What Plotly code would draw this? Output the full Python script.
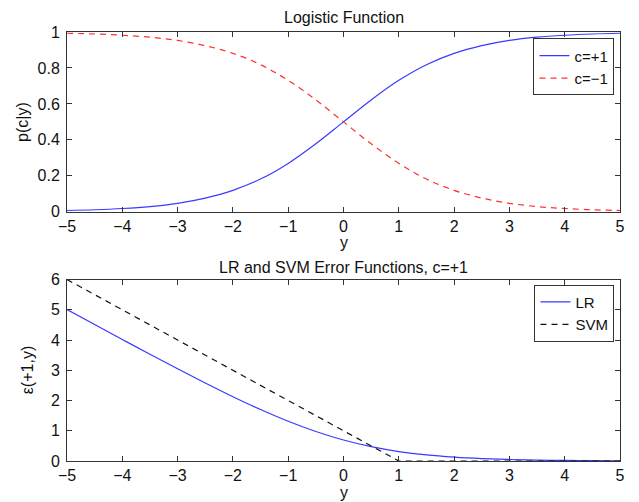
import plotly.graph_objects as go
from plotly.subplots import make_subplots

# sample positions along y
y_vals = [-5, -4.5, -4, -3.5, -3, -2.5, -2, -1.5, -1, -0.5, 0,
          0.5, 1, 1.5, 2, 2.5, 3, 3.5, 4, 4.5, 5]

# p(c|y) for c=+1 and c=-1
p_pos = [0.007, 0.011, 0.018, 0.029, 0.047, 0.076, 0.119, 0.182, 0.269, 0.378, 0.500,
         0.622, 0.731, 0.818, 0.881, 0.924, 0.953, 0.971, 0.982, 0.989, 0.993]
p_neg = [0.993, 0.989, 0.982, 0.971, 0.953, 0.924, 0.881, 0.818, 0.731, 0.622, 0.500,
         0.378, 0.269, 0.182, 0.119, 0.076, 0.047, 0.029, 0.018, 0.011, 0.007]

# logistic-regression error
lr_err = [5.007, 4.511, 4.018, 3.530, 3.049, 2.579, 2.127, 1.701, 1.313, 0.974, 0.693,
          0.474, 0.313, 0.201, 0.127, 0.079, 0.049, 0.030, 0.018, 0.011, 0.007]

# hinge (SVM) error, piecewise linear
svm_y = [-5, 1, 5]
svm_err = [6, 0, 0]

x_ticks = [-5, -4, -3, -2, -1, 0, 1, 2, 3, 4, 5]

fig = make_subplots(rows=2, cols=1, vertical_spacing=0.16)

fig.add_trace(go.Scatter(x=y_vals, y=p_pos, mode="lines", name="c=+1",
                         line=dict(color="#3a3aff", width=1.2, shape="spline"),
                         legend="legend"), row=1, col=1)
fig.add_trace(go.Scatter(x=y_vals, y=p_neg, mode="lines", name="c=\u22121",
                         line=dict(color="#ff3030", width=1.2, dash="6px,5px", shape="spline"),
                         legend="legend"), row=1, col=1)
fig.add_trace(go.Scatter(x=y_vals, y=lr_err, mode="lines", name="LR",
                         line=dict(color="#3a3aff", width=1.2, shape="spline"),
                         legend="legend2"), row=2, col=1)
fig.add_trace(go.Scatter(x=svm_y, y=svm_err, mode="lines", name="SVM",
                         line=dict(color="#111111", width=1.2, dash="6px,5px"),
                         legend="legend2"), row=2, col=1)

family = "Liberation Sans, Arial, sans-serif"
font = dict(family=family, size=16, color="#111")
title_font = dict(family=family, size=16, color="#111")
axis_common = dict(showgrid=False, zeroline=False, showline=True, mirror="allticks",
                   linecolor="#333", linewidth=1, ticks="inside", ticklen=5,
                   tickcolor="#333", tickfont=font, automargin=False)

fig.update_xaxes(range=[-5, 5], tickvals=x_ticks, ticklabelstandoff=0, **axis_common)
fig.update_yaxes(ticklabelstandoff=3, **axis_common)
fig.update_yaxes(range=[0, 1], tickvals=[0, 0.2, 0.4, 0.6, 0.8, 1], row=1, col=1)
fig.update_yaxes(range=[0, 6], tickvals=[0, 1, 2, 3, 4, 5, 6], row=2, col=1)

legend_style = dict(xanchor="right", yanchor="top",
                    bgcolor="white", bordercolor="#333", borderwidth=1,
                    font=dict(family=family, size=15, color="#111"),
                    tracegroupgap=0, itemwidth=30)

top_lo, bot_hi = 0.581, 0.423


def label(text, x, y, xshift=0, yshift=0, angle=0, f=font):
    return dict(text=text, x=x, y=y, xref="paper", yref="paper",
                xanchor="center", yanchor="middle", xshift=xshift, yshift=yshift,
                textangle=angle, showarrow=False, font=f, borderpad=0)


fig.update_layout(
    width=639, height=502,
    margin=dict(l=67, r=19, t=32, b=41),
    paper_bgcolor="white", plot_bgcolor="white",
    font=font,
    showlegend=True,
    yaxis=dict(domain=[top_lo, 1]),
    yaxis2=dict(domain=[0, bot_hi]),
    legend=dict(x=0.99, y=0.985, **legend_style),
    legend2=dict(x=0.99, y=bot_hi - 0.012, **legend_style),
    annotations=[
        label("Logistic Function", 0.5, 1.0, yshift=15, f=title_font),
        label("LR and SVM Error Functions, c=+1", 0.5, bot_hi, yshift=12, f=title_font),
        label("y", 0.5, top_lo, yshift=-31),
        label("y", 0.5, 0, yshift=-31),
        label("p(c|y)", 0, (top_lo + 1) / 2, xshift=-44, angle=-90),
        label("\u03b5(+1,y)", 0, bot_hi / 2, xshift=-40, angle=-90),
    ],
)

fig.write_html("out.html")
